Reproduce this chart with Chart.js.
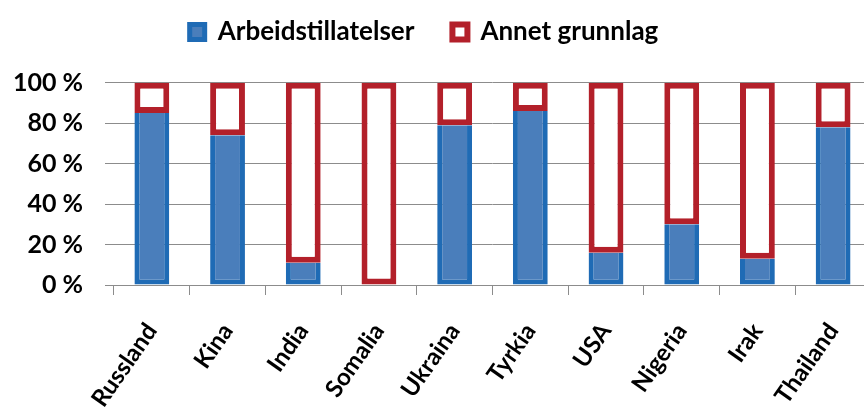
<!DOCTYPE html>
<html><head><meta charset="utf-8">
<script src="https://cdn.jsdelivr.net/npm/chart.js@4.4.0/dist/chart.umd.min.js"></script>
<style>
html,body{margin:0;padding:0;overflow:hidden;background:#fff;width:864px;height:410px}
#wrap{position:relative;width:880px;height:410px}
</style></head><body>
<div id="wrap"><canvas id="c"></canvas></div>
<script>
const categories = ['Russland','Kina','India','Somalia','Ukraina','Tyrkia','USA','Nigeria','Irak','Thailand'];
const arbeidstillatelser = [85, 74, 11, 0, 79, 86, 16, 30, 13, 78];
const annetGrunnlag = [15, 26, 89, 100, 21, 14, 84, 70, 87, 22];
const seriesNames = ['Arbeidstillatelser', 'Annet grunnlag'];
const yTickValues = [0, 20, 40, 60, 80, 100];

const FONT = 'Lato';
new Chart(document.getElementById('c'), {
  type: 'bar',
  data: {
    labels: categories,
    datasets: [
      { label: seriesNames[0], data: arbeidstillatelser, backgroundColor: '#4a7ebb', borderColor: '#1f6bb5',
        borderWidth: 5, borderSkipped: 'end', barPercentage: 0.46, categoryPercentage: 1 },
      { label: seriesNames[1], data: annetGrunnlag, backgroundColor: '#ffffff', borderColor: '#b3202a',
        borderWidth: 6, borderSkipped: false, barPercentage: 0.46, categoryPercentage: 1 }
    ]
  },
  options: {
    responsive: true, maintainAspectRatio: false, animation: false,
    layout: { padding: { left: -26, right: 6, top: -19, bottom: 0 } },
    plugins: {
      legend: { position: 'top', labels: { font: { family: FONT, size: 26, weight: 'bold' }, color: '#000',
        boxWidth: 15, boxHeight: 15, padding: 38 } },
      title: { display: true, text: '', weight: 500, padding: { top: 0, bottom: 26.5 }, font: { size: 1 } },
      tooltip: { enabled: false }
    },
    scales: {
      x: { stacked: true,
        grid: { drawOnChartArea: false, tickLength: 10, color: '#8c8c8c', offset: true },
        border: { display: false },
        ticks: { maxRotation: 55, minRotation: 55, autoSkip: false, padding: 23, color: '#000',
          font: { family: FONT, size: 24, weight: 'bold' } },
        afterFit: s => { s.height = 125; } },
      y: { stacked: true, min: 0, max: 100,
        afterBuildTicks: s => { s.ticks = yTickValues.map(v => ({ value: v })); },
        ticks: { padding: 22, color: '#000', font: { family: FONT, size: 25, weight: 'bold' },
          callback: v => v + ' %' },
        grid: { color: '#8c8c8c', tickLength: 9 },
        border: { display: false },
        afterFit: s => { s.width = 140; } }
    }
  }
});
</script>
</body></html>
